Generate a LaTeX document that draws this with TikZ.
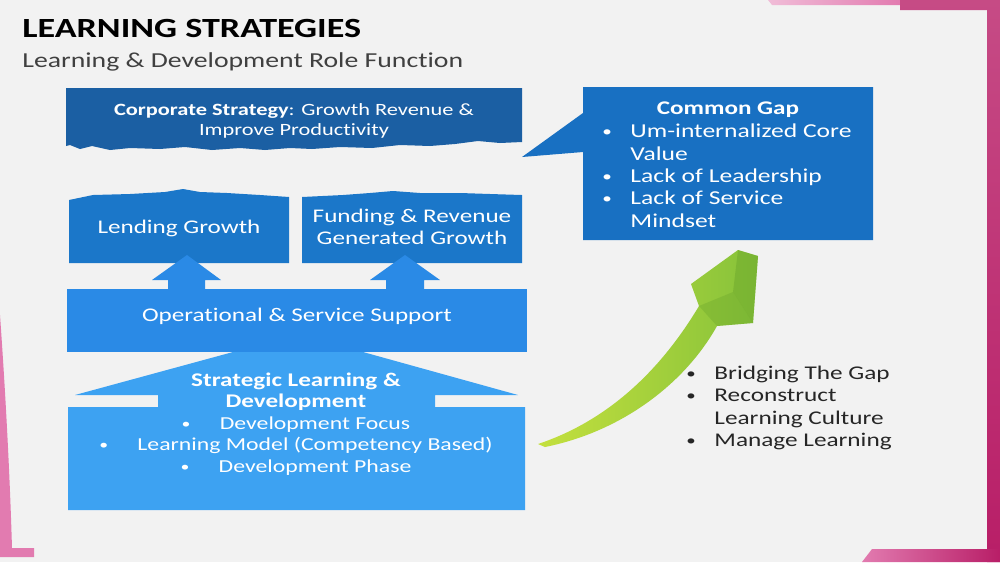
\documentclass[tikz,border=0pt]{standalone}
\usepackage{fontspec}
\setmainfont{Carlito}[FakeStretch=1.3, Ligatures=CommonOff]
\usetikzlibrary{positioning}
\definecolor{slidebg}{HTML}{F2F2F2}
\definecolor{corpblue}{HTML}{1B5FA3}
\definecolor{midblue}{HTML}{1B77C9}
\definecolor{gapblue}{HTML}{1870C2}
\definecolor{opsblue}{HTML}{2A8AE6}
\definecolor{sldblue}{HTML}{3DA2F2}
\definecolor{leafgreen}{HTML}{86C23A}
\definecolor{limegreen}{HTML}{C4E03E}
\definecolor{darkgreen}{HTML}{6AA52C}
\definecolor{framepink}{HTML}{E27BB0}
\definecolor{framemag}{HTML}{B81E67}
\definecolor{bodytext}{HTML}{262626}
\newcommand{\dotmark}{\raisebox{0.12ex}{\scalebox{0.75}{\textbullet}}}
\tikzset{
	boxtext/.style={text=white, align=center, inner sep=0pt, font=\fontsize{11}{12.6}\selectfont},
	listtext/.style={anchor=north west, inner sep=0pt, font=\fontsize{11.2}{12.7}\selectfont}
}

\begin{document}
\begin{tikzpicture}[x=0.02cm,y=-0.02cm]
	\useasboundingbox (0,0) rectangle (1000,562);
	\fill[slidebg] (0,0) rectangle (1000,562);

	% slide frame
	\shade[left color=framepink!50, right color=framepink] (768,0) -- (900,0) -- (900,5) -- (772,5) -- cycle;
	\shade[top color=framemag!80, bottom color=framemag] (900,0) -- (1000,0) -- (1000,562) -- (987,562) -- (987,10) -- (900,10) -- cycle;
	\shade[left color=framepink, right color=framemag] (862,562) -- (872,549) -- (1000,549) -- (1000,562) -- cycle;
	\fill[framepink] (0,315) .. controls (6,400) and (10,480) .. (12,548) -- (34,548) -- (34,557) -- (0,557) -- cycle;

	% title
	\node[anchor=base west, inner sep=0pt, font=\fontsize{15.8}{18}\selectfont\bfseries] (title) at (22,37) {LEARNING STRATEGIES};
	\node[anchor=base west, inner sep=0pt, text=black!75, font=\fontsize{12.15}{14}\selectfont] (subtitle) at (22,67) {Learning \& Development Role Function};

	% corporate strategy banner
	\fill[corpblue] (66,88) -- (522,88) -- (522,142) -- (500,143) -- (478,141) -- (455,144) -- (430,146) -- (400,145) -- (372,148)
		-- (340,147) -- (312,149) -- (290,148) -- (265,150) -- (240,148) -- (212,150) -- (185,147) -- (160,149)
		-- (130,148) -- (110,150) -- (92,146) -- (80,149) -- (70,145) -- (66,146) -- cycle;
	\node[boxtext, font=\fontsize{9.8}{11.3}\selectfont] (corp) at (294,121) {\textbf{Corporate Strategy}: Growth Revenue \&\\ Improve Productivity};

	% growth boxes
	\fill[midblue] (69,263) -- (69,200) -- (93,195) -- (130,194) -- (165,192) -- (183,189) -- (200,192) -- (227,193) -- (260,195) -- (289,197) -- (289,263) -- cycle;
	\fill[midblue] (302,263) -- (302,197) -- (343,195) -- (370,193) -- (393,191) -- (420,193) -- (460,193) -- (490,194) -- (522,195) -- (522,263) -- cycle;
	\node[boxtext] (lend) at (179,228) {Lending Growth};
	\node[boxtext] (fund) at (412,227) {Funding \& Revenue\\ Generated Growth};

	% common gap callout
	\fill[gapblue] (583,87) -- (873,87) -- (873,240) -- (583,240) -- (583,152) -- (522,157) -- (583,113) -- cycle;
	\node[boxtext, font=\fontsize{11}{12.7}\selectfont\bfseries] (gaphead) at (728,110) {Common Gap};
	\node[listtext, text=white] (gaplist) at (602,122) {%
		\begin{tabular}{@{}p{16pt}@{}l@{}}
			\dotmark & Um-internalized Core\\
			         & Value\\
			\dotmark & Lack of Leadership\\
			\dotmark & Lack of Service\\
			         & Mindset
		\end{tabular}};

	% operational support and arrows
	\fill[opsblue] (67,289) rectangle (527,352);
	\node[boxtext] (ops) at (297,316) {Operational \& Service Support};
	\fill[opsblue] (168,289) -- (168,280) -- (152,280) -- (187,255) -- (221,280) -- (205,280) -- (205,289) -- cycle;
	\fill[opsblue] (386,289) -- (386,280) -- (370,280) -- (405,255) -- (440,280) -- (424,280) -- (424,289) -- cycle;

	% strategic learning block arrow
	\fill[sldblue] (68,510) -- (525,510) -- (525,407) -- (435,407) -- (435,395) -- (518,395) -- (363,352) -- (233,352)
		-- (75,395) -- (158,395) -- (158,407) -- (68,407) -- cycle;
	\node[boxtext, font=\fontsize{10.4}{12.2}\selectfont] (sld) at (296,424) {\textbf{\fontsize{11}{12.2}\selectfont Strategic Learning \&}\\
		\textbf{\fontsize{11}{12.2}\selectfont Development}\\
		\dotmark\hspace{1.6em}Development Focus\\
		\dotmark\hspace{1.6em}Learning Model (Competency Based)\\
		\dotmark\hspace{1.6em}Development Phase};

	% green growth arrow
	\shade[left color=limegreen, right color=leafgreen] (538,444) .. controls (610,420) and (662,368) .. (699,306) -- (691,284)
		-- (738,250) -- (758,256) -- (753,323) -- (717,326) .. controls (684,385) and (620,432) .. (545,447) -- cycle;
	\fill[darkgreen, opacity=0.45] (738,250) -- (758,256) -- (753,323) -- (733,292) -- cycle;
	\fill[darkgreen, opacity=0.35] (699,306) -- (733,292) -- (753,323) -- (717,326) -- cycle;

	% bridging list
	\node[listtext, text=bodytext, font=\fontsize{11.05}{12.6}\selectfont] (bridge) at (686,364) {%
		\begin{tabular}{@{}p{16pt}@{}l@{}}
			\dotmark & Bridging The Gap\\
			\dotmark & Reconstruct\\
			         & Learning Culture\\
			\dotmark & Manage Learning
		\end{tabular}};
\end{tikzpicture}
\end{document}
